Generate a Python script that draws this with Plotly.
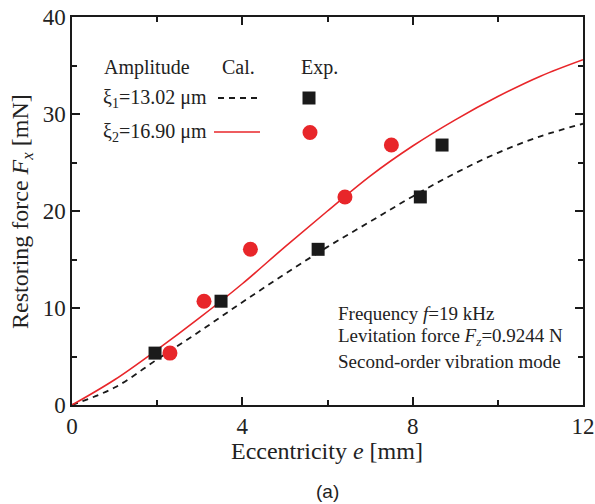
import plotly.graph_objects as go

# ---- data ----
calc_x = [0, 1, 2, 3, 4, 5, 6, 7, 8, 9, 10, 11, 12]
calc_xi1 = [0, 1.8, 4.7, 7.6, 10.6, 13.5, 16.3, 18.9, 21.5, 23.9, 26.0, 27.7, 29.0]
calc_xi2 = [0, 2.6, 5.7, 9.0, 12.5, 16.3, 20.0, 23.6, 26.7, 29.4, 31.8, 33.9, 35.6]

exp_x_xi1 = [1.95, 3.5, 5.78, 8.18, 8.69]
exp_y_xi1 = [5.35, 10.7, 16.05, 21.45, 26.8]
exp_x_xi2 = [2.3, 3.1, 4.19, 6.41, 7.5]
exp_y_xi2 = [5.35, 10.7, 16.05, 21.45, 26.8]

x_ticks = [0, 4, 8, 12]
y_ticks = [0, 10, 20, 30, 40]

RED = "#e8262a"
BLACK = "#1a1a1a"
SERIF = "Liberation Serif, Times New Roman, serif"

fig = go.Figure()
fig.add_trace(go.Scatter(x=calc_x, y=calc_xi1, mode="lines", line=dict(color=BLACK, width=1.8, dash="6px,5px"),
                         line_shape="spline", showlegend=False))
fig.add_trace(go.Scatter(x=calc_x, y=calc_xi2, mode="lines", line=dict(color=RED, width=1.6),
                         line_shape="spline", showlegend=False))
fig.add_trace(go.Scatter(x=exp_x_xi1, y=exp_y_xi1, mode="markers",
                         marker=dict(symbol="square", size=13, color=BLACK), showlegend=False))
fig.add_trace(go.Scatter(x=exp_x_xi2, y=exp_y_xi2, mode="markers",
                         marker=dict(symbol="circle", size=15, color=RED), showlegend=False))

# plot area pixel geometry helpers (for decorations only)
L, R, T, B = 72, 583, 17, 405
def px(xp):
    return (xp - L) / (R - L)
def py(yp):
    return (B - yp) / (B - T)

ann = []
def txt(s, xp, yp, size=20, xanchor="center", font=SERIF):
    ann.append(dict(text=s, x=px(xp), y=py(yp), xref="paper", yref="paper", showarrow=False,
                    xanchor=xanchor, yanchor="middle", font=dict(family=font, size=size, color="#222")))

txt("Amplitude", 147, 67)
txt("Cal.", 238, 67)
txt("Exp.", 319, 67)
txt("ξ<sub>1</sub>=13.02 μm", 101, 98, xanchor="left")
txt("ξ<sub>2</sub>=16.90 μm", 101, 132, xanchor="left")
txt("Frequency <i>f</i>=19 kHz", 336, 313, size=19, xanchor="left")
txt("Levitation force <i>F<sub>z</sub></i>=0.9244 N", 336, 337, size=19, xanchor="left")
txt("Second-order vibration mode", 336, 361, size=19, xanchor="left")
txt("Eccentricity <i>e</i> [mm]", 327, 451, size=24)
txt("(a)", 327, 491, size=19, font="Liberation Sans, Arial, sans-serif")
ann.append(dict(text="Restoring force <i>F<sub>x</sub></i> [mN]", x=px(22), y=py(212), xref="paper", yref="paper",
                showarrow=False, textangle=-90, xanchor="center", yanchor="middle",
                font=dict(family=SERIF, size=24, color="#222")))

shapes = [
    dict(type="line", xref="paper", yref="paper", x0=px(218), x1=px(258), y0=py(98), y1=py(98),
         line=dict(color=BLACK, width=1.8, dash="6px,5px")),
    dict(type="line", xref="paper", yref="paper", x0=px(214), x1=px(260), y0=py(132), y1=py(132),
         line=dict(color=RED, width=1.6)),
    dict(type="rect", xref="paper", yref="paper", x0=px(302.5), x1=px(315.5), y0=py(104.5), y1=py(91.5),
         fillcolor=BLACK, line=dict(width=0)),
    dict(type="circle", xref="paper", yref="paper", x0=px(302.5), x1=px(317.5), y0=py(140), y1=py(125),
         fillcolor=RED, line=dict(width=0)),
]

axis_common = dict(showgrid=False, zeroline=False, showline=True, linecolor=BLACK, linewidth=1.5,
                   mirror="allticks", ticks="inside", ticklen=8, tickwidth=1.5, tickcolor=BLACK,
                   tickfont=dict(family=SERIF, size=23, color="#222"), automargin=False)

fig.update_layout(
    width=595, height=504, autosize=False,
    margin=dict(l=L, r=595 - R, t=T, b=504 - B, autoexpand=False),
    paper_bgcolor="white", plot_bgcolor="white",
    xaxis=dict(range=[0, 12], tickvals=x_ticks, ticktext=[str(v) for v in x_ticks],
               minor=dict(tickvals=[2, 6, 10], ticks="inside", ticklen=5, tickwidth=1.5, tickcolor=BLACK),
               **axis_common),
    yaxis=dict(range=[0, 40], tickvals=y_ticks, ticktext=[str(v) for v in y_ticks],
               minor=dict(tickvals=[5, 15, 25, 35], ticks="inside", ticklen=5, tickwidth=1.5, tickcolor=BLACK),
               **axis_common),
    annotations=ann, shapes=shapes,
)

fig.write_html("out.html", config={"displayModeBar": False},
               post_script="document.body.style.margin='0';document.body.style.overflow='hidden';")
